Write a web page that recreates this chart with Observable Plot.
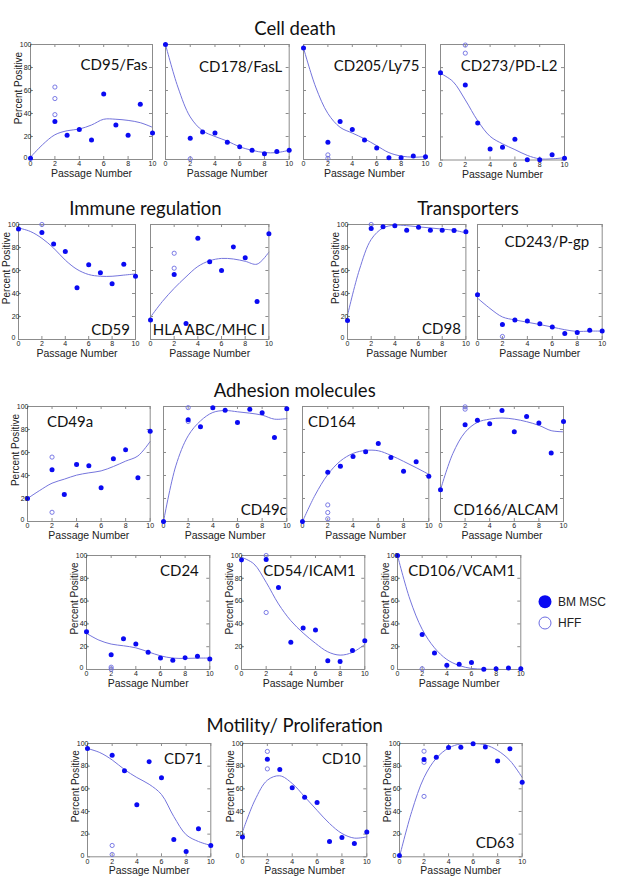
<!DOCTYPE html>
<html>
<head>
<meta charset="utf-8">
<script src="https://cdn.jsdelivr.net/npm/d3@7"></script>
<script src="https://cdn.jsdelivr.net/npm/@observablehq/plot@0.6"></script>
<style>
  html, body { margin: 0; padding: 0; background: #fff; }
  #root { position: relative; width: 633px; height: 888px; overflow: hidden; background: #fff; }
  .panel { position: absolute; }
  #overlay { position: absolute; left: 0; top: 0; }
</style>
</head>
<body>
<div id="root"></div>
<script>
// ---------- shared axis values ----------
const bmPassages = [0, 2, 3, 4, 5, 6, 7, 8, 9, 10];
const hffPassage = 2;
const fitPassages = [0, 1, 2, 3, 4, 5, 6, 7, 8, 9, 10];
const xTicks = [0, 2, 4, 6, 8, 10];
const yTicks = [0, 20, 40, 60, 80, 100];
const yTickLabelsUpper = [20, 40, 60, 80, 100];
const yTickLabelZero = [0];

// ---------- Cell death ----------
const cd95_bm  = [1, 33, 21, 26, 17, 57, 30, 21, 48, 23];
const cd95_hff = [63, 53, 39];
const cd95_fit = [2, 13, 21.5, 25, 26.5, 30, 35, 35, 34, 32, 28];

const cd178_bm  = [100, 18.5, 24, 23, 15, 11, 8, 5, 7, 8];
const cd178_hff = [0.5];
const cd178_fit = [100, 63, 37, 25, 20, 16, 11, 8, 6, 6, 8];

const cd205_bm  = [97, 15, 33, 26, 17, 10, 1.5, 1.5, 3, 2.5];
const cd205_hff = [4, 1];
const cd205_fit = [97, 63, 40, 28, 23, 18, 12, 6, 3, 2, 2.5];

const cd273_bm  = [75.5, 65, 32, 9.5, 11, 18, 0.3, 0.3, 4.6, 1.5];
const cd273_hff = [99.5, 92.5];
const cd273_fit = [75, 68, 52, 34, 20.5, 14, 9, 4, 1, 1, 2];

// ---------- Immune regulation ----------
const cd59_bm  = [96, 93, 83, 76.5, 45, 65, 58, 48.5, 65.5, 55];
const cd59_hff = [100];
const cd59_fit = [97, 94, 88, 79.5, 69, 61, 56.5, 55, 55, 56, 57];

const hla_bm  = [17, 56.5, 14, 88, 67.5, 60, 80.5, 71, 33, 92];
const hla_hff = [75, 62];
const hla_fit = [19.5, 33, 44.5, 54.5, 63.5, 68.5, 70.5, 70, 68, 65.5, 76];

// ---------- Transporters ----------
const cd98_bm  = [16.5, 96.5, 98, 99, 95, 97.7, 95, 95, 94.7, 93.6];
const cd98_hff = [100];
const cd98_fit = [21, 60.5, 87, 97, 99.4, 99, 98, 97, 96, 95, 92.7];

const cd243_bm  = [39, 13, 17, 16, 13.7, 10.8, 5.3, 6, 8, 7.3];
const cd243_hff = [2.6];
const cd243_fit = [36, 27, 19.6, 17, 15, 13, 10.8, 8.5, 7, 7.3, 7.3];

// ---------- Adhesion molecules ----------
const cd49a_bm  = [20, 45, 23.5, 49.6, 48.4, 29.3, 54.5, 62.3, 38, 78.5];
const cd49a_hff = [56, 8];
const cd49a_fit = [20, 27, 33.3, 36.8, 40.3, 42.3, 44, 47.8, 52.5, 57, 69.6];

const cd49c_bm  = [0, 88.4, 82.3, 99, 96.8, 86, 97.7, 94.5, 73, 98];
const cd49c_hff = [99, 87];
const cd49c_fit = [0, 48.4, 74.5, 87.5, 94.8, 96.5, 95.4, 94.2, 92.5, 89, 89.5];

const cd164_bm  = [0, 42.8, 48, 56.6, 60.6, 67.8, 55.7, 43.7, 52, 39.4];
const cd164_hff = [14.4, 7.8, 2.3];
const cd164_fit = [0, 23, 40.8, 52.6, 59.2, 61.8, 61.5, 57.5, 52.3, 46.8, 41];

const cd166_bm  = [27.6, 84.2, 88, 85, 96.5, 78, 91.4, 85.6, 59.5, 87];
const cd166_hff = [99.7, 97.7];
const cd166_fit = [27.6, 59, 77.6, 86.2, 89, 90, 89, 86.8, 83.6, 79, 78];

const cd24_bm  = [33, 13, 27, 22.3, 15.2, 10, 8, 10.3, 11.7, 9.1];
const cd24_hff = [2, 0.3];
const cd24_fit = [31.7, 25.8, 22.3, 20.8, 19, 15.5, 12, 10, 9.7, 10, 10];

const cd54_bm  = [96, 96.5, 72, 24, 36.4, 34.6, 7.7, 7, 16.7, 25.2];
const cd54_hff = [100, 50];
const cd54_fit = [98.5, 92.7, 76.5, 57.5, 42.8, 32, 23, 15.5, 12.6, 15, 22];

const cd106_bm  = [100, 30.6, 14.4, 3.8, 4.7, 6.2, 0.3, 0.6, 1.2, 0.6];
const cd106_hff = [0.6];
const cd106_fit = [100, 61.8, 35.3, 19, 8.8, 3.5, 0.9, 0.3, 0, 0, 0];

// ---------- Motility / Proliferation ----------
const cd71_bm  = [95.6, 89.7, 75.9, 46, 84, 69.7, 15.3, 4.7, 24.7, 10];
const cd71_hff = [10, 2];
const cd71_fit = [95.6, 92, 85.5, 77, 70, 64, 55, 35.5, 19.5, 13.5, 10];

const cd10_bm  = [17.4, 86, 77, 61, 52.6, 48, 13.5, 17, 11.8, 21.8];
const cd10_hff = [93, 77.6];
const cd10_fit = [22, 50, 67.6, 71.5, 64.7, 53, 41, 29.4, 20.6, 16.5, 17.6];

const cd63_bm  = [1.2, 85.8, 87.9, 96.4, 96.7, 99.7, 97, 84.6, 95.3, 65.7];
const cd63_hff = [93.2, 83.4, 53.3];
const cd63_fit = [0, 40, 70, 87, 96, 99.7, 100, 98.8, 93.8, 85, 70];

// ---------- text ----------
const sectionTitles = ["Cell death", "Immune regulation", "Transporters", "Adhesion molecules", "Motility/ Proliferation"];
const legendLabels = ["BM MSC", "HFF"];
const xLabel = "Passage Number";
const yLabel = "Percent Positive";

// ---------- layout (positions only) ----------
const panels = [
  {label: "CD95/Fas",      bm: cd95_bm,  hff: cd95_hff,  fit: cd95_fit,  x0: 29.5,  x1: 151.5, y0: 44,    y1: 159,   yAxis: true,  pos: "TR", inset: 5,   off: 15},
  {label: "CD178/FasL",    bm: cd178_bm, hff: cd178_hff, fit: cd178_fit, x0: 165,   x1: 288.7, y0: 44,    y1: 159,   yAxis: false, pos: "TR", inset: 7,   off: 17},
  {label: "CD205/Ly75",    bm: cd205_bm, hff: cd205_hff, fit: cd205_fit, x0: 303,   x1: 425,   y0: 44,    y1: 159,   yAxis: false, pos: "TR", inset: 6,   off: 15.5},
  {label: "CD273/PD-L2",   bm: cd273_bm, hff: cd273_hff, fit: cd273_fit, x0: 440.3, x1: 564.3, y0: 43.5,  y1: 159,   yAxis: false, pos: "TR", inset: 7,   off: 16},
  {label: "CD59",          bm: cd59_bm,  hff: cd59_hff,  fit: cd59_fit,  x0: 17.7,  x1: 134.7, y0: 224,   y1: 339,   yAxis: true,  pos: "BR", inset: 5.5, off: 4.7},
  {label: "HLA ABC/MHC I", bm: hla_bm,   hff: hla_hff,   fit: hla_fit,   x0: 150.3, x1: 268.7, y0: 224,   y1: 339,   yAxis: false, pos: "BR", inset: 4,   off: 4.7},
  {label: "CD98",          bm: cd98_bm,  hff: cd98_hff,  fit: cd98_fit,  x0: 347.3, x1: 465.7, y0: 224,   y1: 339,   yAxis: true,  pos: "BR", inset: 5,   off: 5},
  {label: "CD243/P-gp",    bm: cd243_bm, hff: cd243_hff, fit: cd243_fit, x0: 477.3, x1: 602,   y0: 224,   y1: 339,   yAxis: false, pos: "TR", inset: 13,  off: 11.7},
  {label: "CD49a",         bm: cd49a_bm, hff: cd49a_hff, fit: cd49a_fit, x0: 27.3,  x1: 150,   y0: 405.7, y1: 520.7, yAxis: true,  pos: "TL", inset: 19.4, off: 10},
  {label: "CD49c",         bm: cd49c_bm, hff: cd49c_hff, fit: cd49c_fit, x0: 162.7, x1: 286,   y0: 405.7, y1: 520.7, yAxis: false, pos: "BR", inset: 0,   off: 6.4},
  {label: "CD164",         bm: cd164_bm, hff: cd164_hff, fit: cd164_fit, x0: 302,   x1: 428.3, y0: 405.7, y1: 520.7, yAxis: false, pos: "TL", inset: 5.6, off: 10},
  {label: "CD166/ALCAM",   bm: cd166_bm, hff: cd166_hff, fit: cd166_fit, x0: 440.3, x1: 563.3, y0: 405.7, y1: 520.7, yAxis: false, pos: "BR", inset: 5,   off: 6.4},
  {label: "CD24",          bm: cd24_bm,  hff: cd24_hff,  fit: cd24_fit,  x0: 86,    x1: 209.3, y0: 554.5, y1: 668.5, yAxis: true,  pos: "TR", inset: 11,  off: 9.5},
  {label: "CD54/ICAM1",    bm: cd54_bm,  hff: cd54_hff,  fit: cd54_fit,  x0: 241,   x1: 364.3, y0: 554.5, y1: 668.5, yAxis: true,  pos: "TR", inset: 9,   off: 9.5},
  {label: "CD106/VCAM1",   bm: cd106_bm, hff: cd106_hff, fit: cd106_fit, x0: 396.7, x1: 520,   y0: 554.5, y1: 668.5, yAxis: true,  pos: "TR", inset: 5.7, off: 10},
  {label: "CD71",          bm: cd71_bm,  hff: cd71_hff,  fit: cd71_fit,  x0: 86.7,  x1: 210,   y0: 742.7, y1: 856,   yAxis: true,  pos: "TR", inset: 8,   off: 10},
  {label: "CD10",          bm: cd10_bm,  hff: cd10_hff,  fit: cd10_fit,  x0: 241.7, x1: 366,   y0: 742.7, y1: 856,   yAxis: true,  pos: "TR", inset: 6,   off: 10},
  {label: "CD63",          bm: cd63_bm,  hff: cd63_hff,  fit: cd63_fit,  x0: 399,   x1: 521.7, y0: 742.7, y1: 856,   yAxis: true,  pos: "BR", inset: 7.7, off: 9}
];

const titlePos = [[295, 35], [145.5, 215], [468, 215], [294.7, 396.7], [294.7, 731.7]];

const frameColor = "#8c8c8c";
const bmColor = "#0a0af2";
const hffColor = "#6c6ce2";
const fitColor = "#7474dc";
const labelFont = "Lato, 'Open Sans', sans-serif";
const tickFont = "'Liberation Sans', Arial, sans-serif";

const root = document.getElementById("root");
const ml = 32, mr = 8, mt = 6, mb = 24, tickLen = 3;

for (const p of panels) {
  const W = p.x1 - p.x0, H = p.y1 - p.y0;
  const bmData = bmPassages.map((x, i) => ({x, y: p.bm[i]}));
  const hffData = p.hff.map(y => ({x: hffPassage, y}));
  const fitData = fitPassages.map((x, i) => ({x, y: p.fit[i]}));

  let labelOpts;
  if (p.pos === "TR") labelOpts = {frameAnchor: "top-right", textAnchor: "end", lineAnchor: "top", dx: -p.inset, dy: p.off};
  else if (p.pos === "TL") labelOpts = {frameAnchor: "top-left", textAnchor: "start", lineAnchor: "top", dx: p.inset, dy: p.off};
  else labelOpts = {frameAnchor: "bottom-right", textAnchor: "end", lineAnchor: "bottom", dx: -p.inset, dy: -p.off};

  const marks = [
    Plot.line(fitData, {x: "x", y: "y", curve: "catmull-rom", stroke: fitColor, strokeWidth: 1}),
    Plot.frame({stroke: frameColor, strokeWidth: 1}),
    Plot.tickX(xTicks, {insetTop: H - tickLen, stroke: frameColor}),
    Plot.tickX(xTicks, {insetBottom: H - tickLen, stroke: frameColor}),
    Plot.tickY(yTicks, {insetRight: W - tickLen, stroke: frameColor}),
    Plot.tickY(yTicks, {insetLeft: W - tickLen, stroke: frameColor}),
    Plot.axisX(xTicks, {anchor: "bottom", tickSize: 0, tickPadding: 2, label: null, fontSize: 7, fontFamily: tickFont, fill: "#222"}),
    Plot.text([xLabel], {frameAnchor: "bottom", lineAnchor: "bottom", textAnchor: "middle", dy: 17.5, fontSize: 10.5, fontFamily: tickFont, fill: "#222"}),
    Plot.dot(hffData, {x: "x", y: "y", r: 2.1, stroke: hffColor, strokeWidth: 0.9, fill: "none"}),
    Plot.dot(bmData, {x: "x", y: "y", r: 2.5, fill: bmColor, stroke: "none"}),
    Plot.text([p.label], {...labelOpts, fontSize: 15, fontFamily: labelFont, fill: "#111"})
  ];
  if (p.yAxis) {
    marks.push(Plot.axisY(yTickLabelsUpper, {anchor: "left", tickSize: 0, tickPadding: -1, label: null, fontSize: 7, fontFamily: tickFont, fill: "#222"}));
    marks.push(Plot.axisY(yTickLabelZero, {anchor: "left", tickSize: 0, tickPadding: 3, dy: -1.5, label: null, fontSize: 7, fontFamily: tickFont, fill: "#222"}));
    marks.push(Plot.text([yLabel], {frameAnchor: "left", rotate: -90, textAnchor: "middle", lineAnchor: "middle", dx: -12, dy: -14, fontSize: 10, fontFamily: tickFont, fill: "#222"}));
  }

  const chart = Plot.plot({
    width: W + ml + mr,
    height: H + mt + mb,
    marginLeft: ml, marginRight: mr, marginTop: mt, marginBottom: mb,
    x: {domain: [0, 10], axis: null},
    y: {domain: [0, 100], axis: null},
    style: {background: "transparent", overflow: "visible"},
    marks
  });
  const div = document.createElement("div");
  div.className = "panel";
  div.style.left = (p.x0 - ml) + "px";
  div.style.top = (p.y0 - mt) + "px";
  div.appendChild(chart);
  root.appendChild(div);
}

// ---------- section titles and legend ----------
const ns = "http://www.w3.org/2000/svg";
const overlay = document.createElementNS(ns, "svg");
overlay.setAttribute("id", "overlay");
overlay.setAttribute("width", 633);
overlay.setAttribute("height", 888);
sectionTitles.forEach((t, i) => {
  const el = document.createElementNS(ns, "text");
  el.setAttribute("x", titlePos[i][0]);
  el.setAttribute("y", titlePos[i][1]);
  el.setAttribute("text-anchor", "middle");
  el.setAttribute("font-family", labelFont);
  el.setAttribute("font-size", "18.5");
  el.setAttribute("fill", "#111");
  el.textContent = t;
  overlay.appendChild(el);
});
const legendPos = [[545, 601.7], [545, 623]];
legendLabels.forEach((t, i) => {
  const c = document.createElementNS(ns, "circle");
  c.setAttribute("cx", legendPos[i][0]);
  c.setAttribute("cy", legendPos[i][1]);
  c.setAttribute("r", i === 0 ? 6.5 : 6);
  if (i === 0) { c.setAttribute("fill", bmColor); }
  else { c.setAttribute("fill", "none"); c.setAttribute("stroke", hffColor); c.setAttribute("stroke-width", 1); }
  overlay.appendChild(c);
  const el = document.createElementNS(ns, "text");
  el.setAttribute("x", legendPos[i][0] + 13);
  el.setAttribute("y", legendPos[i][1] + 4);
  el.setAttribute("font-family", tickFont);
  el.setAttribute("font-size", "12");
  el.setAttribute("fill", "#222");
  el.textContent = t;
  overlay.appendChild(el);
});
root.appendChild(overlay);
</script>
</body>
</html>
